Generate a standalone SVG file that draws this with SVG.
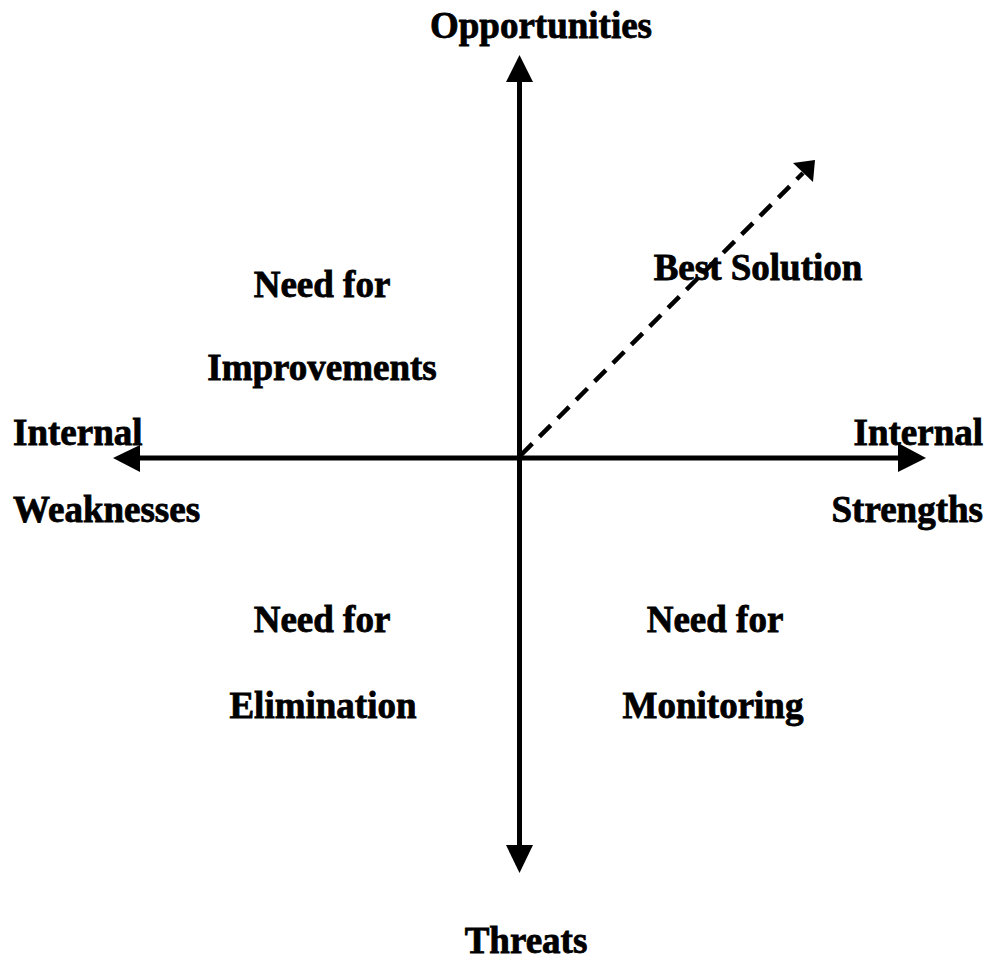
<svg xmlns="http://www.w3.org/2000/svg" width="987" height="963" viewBox="0 0 987 963">
<style>
.t{font-family:"Liberation Serif","Times New Roman",serif;font-weight:bold;font-size:37px;fill:#000;stroke:#000;stroke-width:0.8}
.m{text-anchor:middle}
.e{text-anchor:end}
.ax{stroke:#000;stroke-width:5;fill:none}
.ds{stroke:#000;stroke-width:4.5;fill:none;stroke-dasharray:16 10}
.hd{fill:#000}
</style>
<rect width="987" height="963" fill="#fff"/>
<g id="connectors">
<line class="ax" x1="519.5" y1="78" x2="519.5" y2="848"/>
<polygon class="hd" points="519.5,55 506,82 533,82"/>
<polygon class="hd" points="519.5,873 506,845 533,845"/>
<line class="ax" x1="138" y1="458" x2="900" y2="458"/>
<polygon class="hd" points="113,458 140,445 140,472"/>
<polygon class="hd" points="926,458 898,443 898,472"/>
<line class="ds" x1="521" y1="455" x2="803" y2="173"/>
<polygon class="hd" points="815,160 793,163 813,182"/>
</g>
<g id="opportunities"><text class="t m" x="541" y="38">Opportunities</text></g>
<g id="threats"><text class="t m" x="526" y="953">Threats</text></g>
<g id="weaknesses"><text class="t" x="13" y="445">Internal</text><text class="t" x="13" y="522">Weaknesses</text></g>
<g id="strengths"><text class="t e" x="983" y="445">Internal</text><text class="t e" x="983" y="522">Strengths</text></g>
<g id="improvements"><text class="t m" x="322" y="297">Need for</text><text class="t m" x="322" y="380">Improvements</text></g>
<g id="best-solution"><text class="t m" x="758" y="280">Best Solution</text></g>
<g id="elimination"><text class="t m" x="322" y="632">Need for</text><text class="t m" x="323" y="718">Elimination</text></g>
<g id="monitoring"><text class="t m" x="715" y="632">Need for</text><text class="t m" x="713" y="718">Monitoring</text></g>
</svg>
